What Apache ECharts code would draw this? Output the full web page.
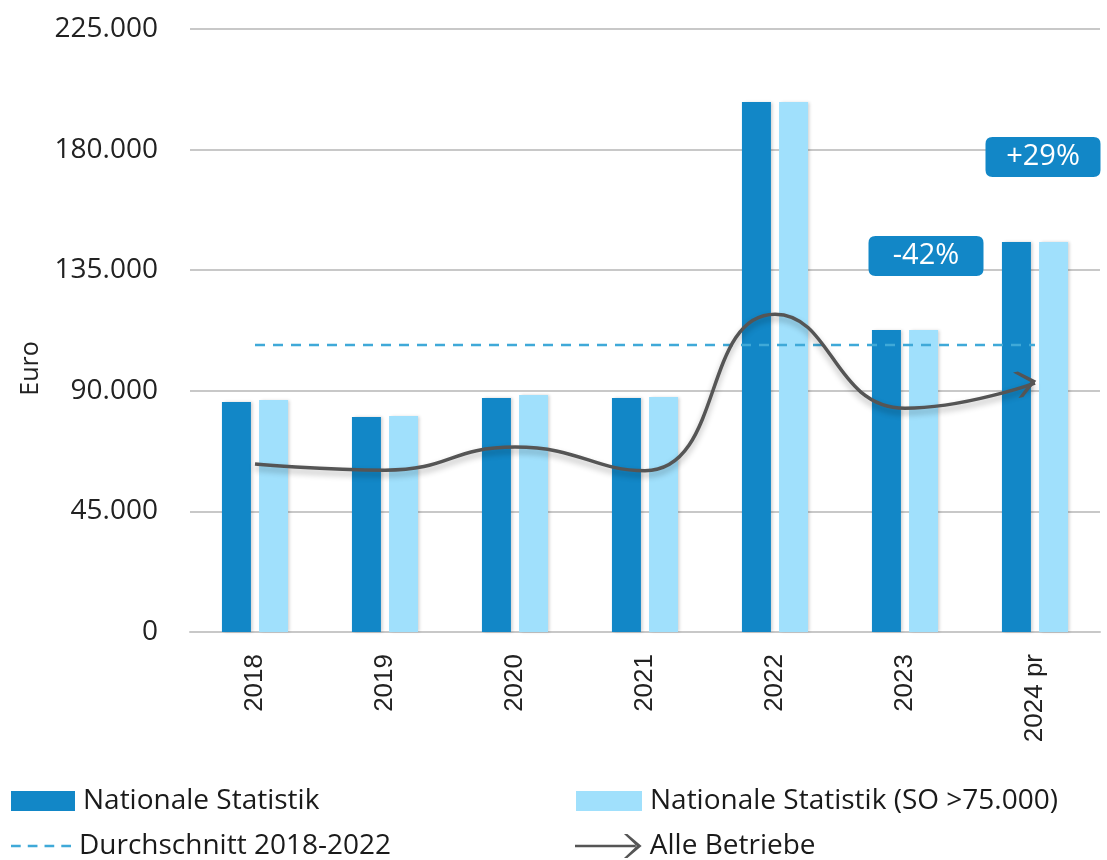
<!DOCTYPE html>
<html>
<head>
<meta charset="utf-8">
<script src="https://cdn.jsdelivr.net/npm/echarts@6/dist/echarts.min.js"></script>
<style>
  body { margin: 0; background: #fff; }
  #chart { width: 1107px; height: 860px; }
</style>
</head>
<body>
<div id="chart"></div>
<script>
// values
const years = ['2018', '2019', '2020', '2021', '2022', '2023', '2024 pr'];
const nationale = [85800, 80200, 87300, 87300, 197800, 112700, 145500];
const nationaleSO = [86600, 80600, 88400, 87700, 197800, 112700, 145500];
const durchschnitt = [107100, 107100, 107100, 107100, 107100, 107100, 107100];
const alleBetriebe = [62700, 60400, 69000, 60200, 118600, 83500, 92900];
const badgeYears = ['2023', '2024 pr'];
const badgeValues = [140300, 177200];
const badgeTexts = ['-42%', '+29%'];

const darkBlue = '#1287c7';
const lightBlue = '#a0e0fc';
const dashBlue = '#3fa9d8';
const lineGrey = '#555555';
const font = 'Open Sans';

function fmt(v) {
  return String(v).replace(/\B(?=(\d{3})+(?!\d))/g, '.');
}

const chevron = 'path://M0,0 L5,0 L21,13 L5,26 L0,26 L15,13 Z';
const lineData = alleBetriebe.map((v, i) => i === alleBetriebe.length - 1
  ? { value: v, symbol: chevron, symbolSize: [21, 26], symbolRotate: 12, symbolOffset: [-9, 0] }
  : { value: v, symbol: 'none' });

const dashIcon = 'path://M0,0h11v3h-11z M19,0h11v3h-11z M38,0h11v3h-11z M57,0h11v3h-11z';
const arrowIcon = 'path://M0,11 L62,11 L62,13.5 L0,13.5 Z M50,0 L53.5,0 L68,12.25 L53.5,24.5 L50,24.5 L63,12.25 Z';
const badgeShape = 'path://M7,0H108Q115,0 115,7V33Q115,40 108,40H7Q0,40 0,33V7Q0,0 7,0Z';

function legendItem(name, icon, left, top, w, h, color) {
  return {
    left: left, top: top, padding: 0,
    itemWidth: w, itemHeight: h,
    itemStyle: { color: color },
    textStyle: { fontSize: 28, color: '#1a1a1a', lineHeight: 30, padding: [0, 0, 0, 3] },
    data: [{ name: name, icon: icon }]
  };
}

const chart = echarts.init(document.getElementById('chart'));
chart.setOption({
  animation: false,
  textStyle: { fontFamily: font },
  grid: { left: 190, right: 7, top: 29, bottom: 228, outerBoundsMode: 'none' },
  xAxis: {
    type: 'category',
    data: years,
    axisLine: { lineStyle: { color: '#c8c8c8', width: 2 } },
    axisTick: { show: false },
    axisLabel: { rotate: 90, margin: 22, fontSize: 26, color: '#222', fontFamily: 'Liberation Sans' }
  },
  yAxis: {
    type: 'value',
    min: 0, max: 225000, interval: 45000,
    name: 'Euro',
    nameLocation: 'middle',
    nameGap: 146,
    nameRotate: 90,
    nameTextStyle: { fontSize: 25, color: '#222', padding: [0, 76, 0, 0] },
    axisLine: { show: false },
    axisTick: { show: false },
    axisLabel: { formatter: fmt, fontSize: 28, color: '#222', margin: 32 },
    splitLine: { lineStyle: { color: '#c8c8c8', width: 2 } }
  },
  legend: [
    legendItem('Nationale Statistik', 'rect', 11, 786, 64, 20, darkBlue),
    legendItem('Nationale Statistik (SO >75.000)', 'rect', 576, 786, 66, 20, lightBlue),
    legendItem('Durchschnitt 2018-2022', dashIcon, 11, 831, 60, 3, dashBlue),
    legendItem('Alle Betriebe', arrowIcon, 575, 831, 67, 24, lineGrey)
  ],
  series: [
    {
      name: 'Nationale Statistik', type: 'bar', data: nationale,
      barWidth: 29, barGap: '28%',
      itemStyle: { color: darkBlue, shadowColor: 'rgba(0,0,0,0.18)', shadowBlur: 3, shadowOffsetX: 2 }
    },
    {
      name: 'Nationale Statistik (SO >75.000)', type: 'bar', data: nationaleSO,
      barWidth: 29,
      itemStyle: { color: lightBlue, shadowColor: 'rgba(0,0,0,0.18)', shadowBlur: 3, shadowOffsetX: 2 }
    },
    {
      name: 'Durchschnitt 2018-2022', type: 'line', data: durchschnitt,
      symbol: 'none', z: 3,
      itemStyle: { color: dashBlue },
      lineStyle: { color: dashBlue, width: 2.5, type: [10, 8] }
    },
    {
      name: 'Alle Betriebe', type: 'line', data: lineData,
      smooth: 0.5, symbol: 'none', z: 4,
      itemStyle: { color: lineGrey },
      lineStyle: { color: lineGrey, width: 3.5, shadowColor: 'rgba(0,0,0,0.3)', shadowBlur: 6, shadowOffsetY: 4 },
      markPoint: {
        symbol: badgeShape,
        symbolSize: [115, 40],
        itemStyle: { color: darkBlue },
        label: { color: '#fff', fontSize: 29, fontFamily: font },
        data: badgeYears.map((y, i) => ({
          coord: [y, badgeValues[i]],
          value: badgeTexts[i],
          symbolOffset: [i === 0 ? 21 : 8, 0]
        }))
      }
    }
  ]
});
</script>
</body>
</html>
